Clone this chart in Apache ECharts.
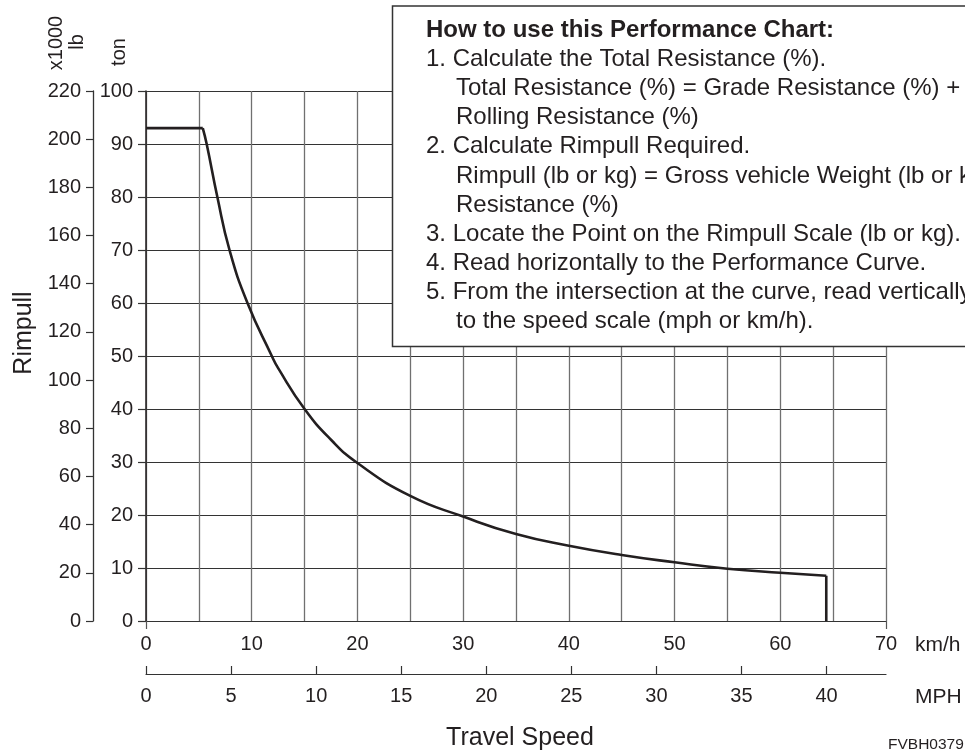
<!DOCTYPE html>
<html>
<head>
<meta charset="utf-8">
<script src="https://cdn.jsdelivr.net/npm/echarts@6/dist/echarts.min.js"></script>
<style>
html,body{margin:0;padding:0;background:#fff;}
#chart{width:965px;height:752px;}
</style>
</head>
<body>
<div id="chart"></div>
<script>
// ---- data ----
const speedKmh   = [0, 5.37, 5.74, 6.75, 7.9, 9.6, 11.9, 12.5, 15, 17.5, 20, 25, 30, 35, 40, 45, 50, 55, 60, 64.35, 64.35];
const rimpullTon = [93, 93, 90, 80, 70, 60, 50, 47.7, 40, 34.2, 29.8, 23.6, 19.7, 16.4, 14.2, 12.45, 11.07, 9.87, 9.1, 8.55, 0];
const kmhLabels  = [0, 10, 20, 30, 40, 50, 60, 70];
const kmhEdgeTicks = [0, 70];
const mphTicks   = [0, 5, 10, 15, 20, 25, 30, 35, 40];
const kmhMax = 70;
const mphMax = 70 / 1.609344;
const tonMax = 100;
const lbMax = 220;
const noteHeading = 'How to use this Performance Chart:';
const noteLines = [
  ['1. Calculate the Total Resistance (%).', 0],
  ['Total Resistance (%) = Grade Resistance (%) +', 1],
  ['Rolling Resistance (%)', 1],
  ['2. Calculate Rimpull Required.', 0],
  ['Rimpull (lb or kg) = Gross vehicle Weight (lb or kg) × Total', 1],
  ['Resistance (%)', 1],
  ['3. Locate the Point on the Rimpull Scale (lb or kg).', 0],
  ['4. Read horizontally to the Performance Curve.', 0],
  ['5. From the intersection at the curve, read vertically', 0],
  ['to the speed scale (mph or km/h).', 1]
];

const pts = speedKmh.map((v, i) => [v, rimpullTon[i]]);
const flatPart = pts.slice(0, 2);
const curvePart = pts.slice(1, pts.length - 1);
const dropPart = pts.slice(pts.length - 2);

const TXT = '#231f20';
const FONT = '"Liberation Sans", Arial, Helvetica, sans-serif';

const chart = echarts.init(document.getElementById('chart'), null, {renderer: 'canvas'});

const lineStyle = {color: TXT, width: 2.6};
function seg(data, smooth) {
  return {
    type: 'line', data: data, xAxisIndex: 0, yAxisIndex: 0,
    showSymbol: false, symbol: 'none', smooth: smooth,
    lineStyle: lineStyle, z: 5, animation: false, silent: true
  };
}

const graphics = [
  {type: 'text', x: 56, y: 43, rotation: Math.PI / 2, style: {text: 'x1000', font: '20px ' + FONT, fill: TXT, align: 'center', verticalAlign: 'middle'}},
  {type: 'text', x: 77, y: 42, rotation: Math.PI / 2, style: {text: 'lb', font: '20px ' + FONT, fill: TXT, align: 'center', verticalAlign: 'middle'}},
  {type: 'text', x: 119, y: 52, rotation: Math.PI / 2, style: {text: 'ton', font: '20px ' + FONT, fill: TXT, align: 'center', verticalAlign: 'middle'}},
  {type: 'text', x: 24, y: 333, rotation: Math.PI / 2, style: {text: 'Rimpull', font: '25px ' + FONT, fill: TXT, align: 'center', verticalAlign: 'middle'}},
  {type: 'text', x: 520, y: 738, style: {text: 'Travel Speed', font: '25px ' + FONT, fill: TXT, align: 'center', verticalAlign: 'middle'}},
  {type: 'text', x: 915, y: 645, style: {text: 'km/h', font: '21px ' + FONT, fill: TXT, align: 'left', verticalAlign: 'middle'}},
  {type: 'text', x: 915, y: 697, style: {text: 'MPH', font: '21px ' + FONT, fill: TXT, align: 'left', verticalAlign: 'middle'}},
  {type: 'text', x: 888, y: 745, style: {text: 'FVBH0379', font: '15.5px ' + FONT, fill: TXT, align: 'left', verticalAlign: 'middle'}},
  {type: 'rect', shape: {x: 392.5, y: 6, width: 640, height: 340.5}, style: {fill: '#fff', stroke: '#333', lineWidth: 1.5}, z: 100},
  {type: 'text', x: 426, y: 30.5, z: 101, style: {text: noteHeading, font: 'bold 24px ' + FONT, fill: TXT, align: 'left', verticalAlign: 'middle'}}
];
noteLines.forEach((ln, i) => {
  graphics.push({type: 'text', x: ln[1] ? 456 : 426, y: 59.5 + i * 29.1, z: 101,
    style: {text: ln[0], font: '24px ' + FONT, fill: TXT, align: 'left', verticalAlign: 'middle'}});
});

const labelStyle = {color: TXT, fontSize: 20, fontFamily: FONT};

chart.setOption({
  animation: false,
  backgroundColor: '#fff',
  grid: {left: 146, top: 91, width: 740, height: 530, containLabel: false},
  xAxis: [
    { // km/h scale
      type: 'value', min: 0, max: kmhMax, interval: 10, position: 'bottom',
      axisLine: {show: true, onZero: false, lineStyle: {color: '#333', width: 1.2}},
      axisTick: {show: true, length: 8, customValues: kmhEdgeTicks, lineStyle: {color: '#555', width: 1.2}},
      axisLabel: Object.assign({margin: 13, customValues: kmhLabels}, labelStyle),
      splitLine: {show: false}
    },
    { // 5 km/h grid
      type: 'value', min: 0, max: kmhMax, interval: 5, position: 'bottom',
      axisLine: {show: false, onZero: false}, axisTick: {show: false}, axisLabel: {show: false},
      splitLine: {show: true, lineStyle: {color: '#707070', width: 1.3}}
    },
    { // MPH scale
      type: 'value', min: 0, max: mphMax, position: 'bottom', offset: 53,
      axisLine: {show: true, onZero: false, lineStyle: {color: '#333', width: 1.2}},
      axisTick: {show: true, inside: true, length: 8, customValues: mphTicks, lineStyle: {color: '#333', width: 1.2}},
      axisLabel: Object.assign({margin: 12, customValues: mphTicks}, labelStyle),
      splitLine: {show: false}
    }
  ],
  yAxis: [
    { // ton scale
      type: 'value', min: 0, max: tonMax, interval: 10, position: 'left',
      axisLine: {show: true, onZero: false, lineStyle: {color: TXT, width: 1.5}},
      axisTick: {show: true, length: 8, lineStyle: {color: '#333', width: 1.2}},
      axisLabel: Object.assign({margin: 13}, labelStyle),
      splitLine: {show: true, lineStyle: {color: '#333', width: 1}}
    },
    { // x1000 lb scale
      type: 'value', min: 0, max: lbMax, interval: 20, position: 'left', offset: 53,
      axisLine: {show: true, onZero: false, lineStyle: {color: '#333', width: 1.3}},
      axisTick: {show: true, length: 7, lineStyle: {color: '#333', width: 1.2}},
      axisLabel: Object.assign({margin: 12}, labelStyle),
      splitLine: {show: false}
    }
  ],
  series: [seg(flatPart, false), seg(curvePart, 0.5), seg(dropPart, false)],
  graphic: graphics
});
</script>
</body>
</html>
